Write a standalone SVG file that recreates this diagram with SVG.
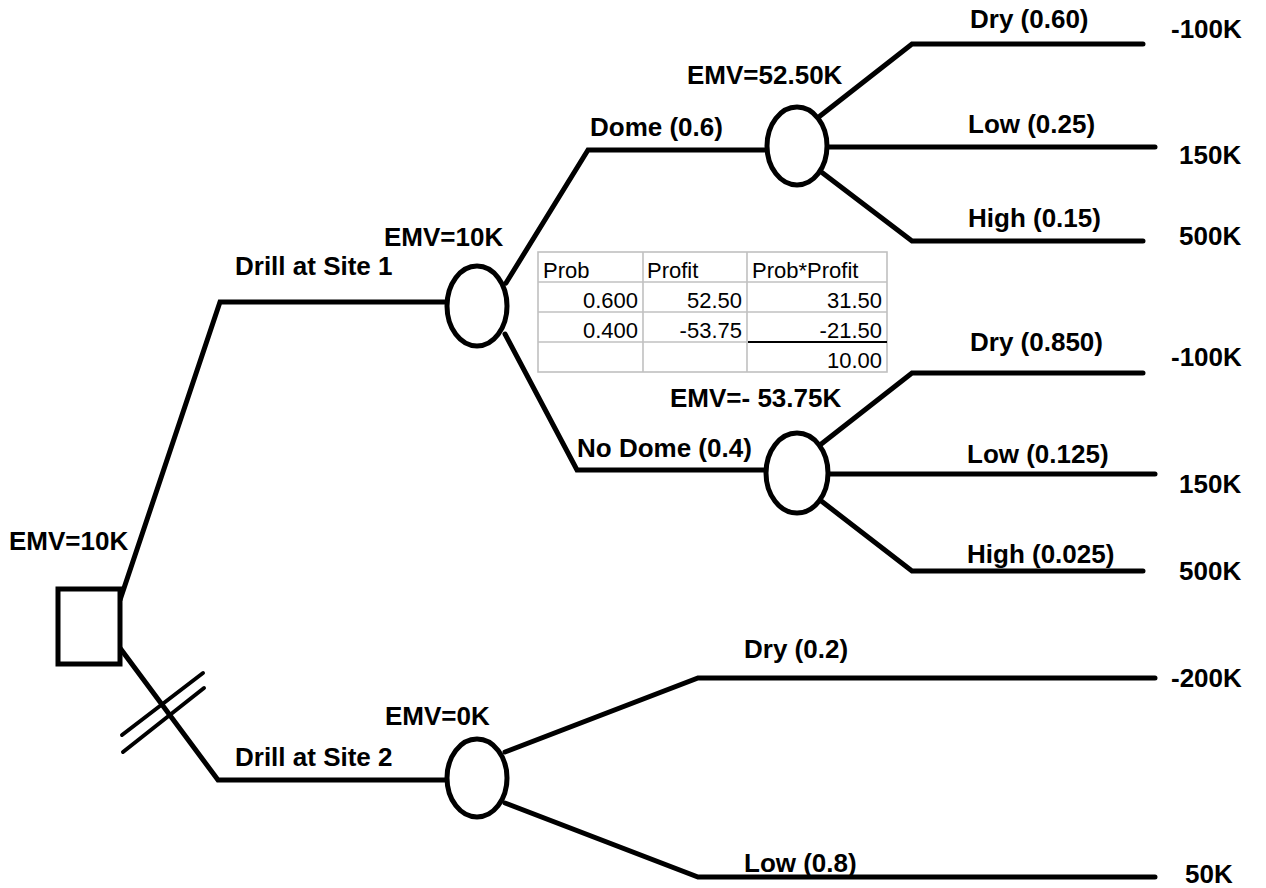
<svg xmlns="http://www.w3.org/2000/svg" width="1266" height="888" viewBox="0 0 1266 888">
<style>
.ln{fill:none;stroke:#000;stroke-width:5;stroke-linecap:round;stroke-linejoin:miter}
.nd{fill:#fff;stroke:#000;stroke-width:5}
.lb{font-family:"Liberation Sans",Arial,sans-serif;font-weight:bold;font-size:26px;fill:#000}
.tt{font-family:"Liberation Sans",Arial,sans-serif;font-size:22px;fill:#000}
.r{text-anchor:end}
.gr{stroke:#c0c0c0;stroke-width:1.6;fill:none}
</style>
<rect width="1266" height="888" fill="#fff"/>
<g id="connectors">
<polyline class="ln" points="120,600 220,302 447,302"/>
<polyline class="ln" points="120,648 218,780 447,780"/>
<line class="ln" x1="122" y1="735" x2="203" y2="673" style="stroke-width:4"/>
<line class="ln" x1="123" y1="752" x2="204" y2="688" style="stroke-width:4"/>
<polyline class="ln" points="506,283 588,150 767,150"/>
<polyline class="ln" points="505,334 577,470 766,470"/>
<polyline class="ln" points="820,116 912,44 1143,44"/>
<line class="ln" x1="828" y1="147" x2="1155" y2="147"/>
<polyline class="ln" points="820,171 912,241 1143,241"/>
<polyline class="ln" points="820,445 912,373 1143,373"/>
<line class="ln" x1="828" y1="474" x2="1155" y2="474"/>
<polyline class="ln" points="820,500 912,571 1143,571"/>
<polyline class="ln" points="505,752 698,678 1155,678"/>
<polyline class="ln" points="505,803 698,877 1155,877"/>
</g>
<g id="decision">
<rect class="nd" x="58" y="589" width="62" height="75"/>
<text class="lb" x="9" y="550">EMV=10K</text>
</g>
<g id="chance-site1">
<ellipse class="nd" cx="477" cy="306" rx="30" ry="40"/>
<text class="lb" x="384" y="246">EMV=10K</text>
<text class="lb" x="235" y="275">Drill at Site 1</text>
</g>
<g id="chance-dome">
<ellipse class="nd" cx="797" cy="146" rx="30" ry="39"/>
<text class="lb" x="687" y="84">EMV=52.50K</text>
<text class="lb" x="590" y="136">Dome (0.6)</text>
</g>
<g id="chance-nodome">
<ellipse class="nd" cx="797" cy="473" rx="31" ry="40"/>
<text class="lb" x="670" y="407">EMV=- 53.75K</text>
<text class="lb" x="577" y="457">No Dome (0.4)</text>
</g>
<g id="chance-site2">
<ellipse class="nd" cx="477" cy="778" rx="30" ry="39"/>
<text class="lb" x="385" y="725">EMV=0K</text>
<text class="lb" x="235" y="766">Drill at Site 2</text>
</g>
<g id="outcomes">
<text class="lb" x="970" y="28">Dry (0.60)</text>
<text class="lb" x="1171" y="38">-100K</text>
<text class="lb" x="968" y="133">Low (0.25)</text>
<text class="lb" x="1179" y="164">150K</text>
<text class="lb" x="968" y="227">High (0.15)</text>
<text class="lb" x="1179" y="245">500K</text>
<text class="lb" x="970" y="351">Dry (0.850)</text>
<text class="lb" x="1171" y="366">-100K</text>
<text class="lb" x="967" y="463">Low (0.125)</text>
<text class="lb" x="1179" y="493">150K</text>
<text class="lb" x="967" y="563">High (0.025)</text>
<text class="lb" x="1179" y="580">500K</text>
<text class="lb" x="744" y="658">Dry (0.2)</text>
<text class="lb" x="1171" y="687">-200K</text>
<text class="lb" x="744" y="872">Low (0.8)</text>
<text class="lb" x="1185" y="883">50K</text>
</g>
<g id="table">
<rect x="538" y="252" width="349" height="120" fill="#fff" class="gr"/>
<line class="gr" x1="538" y1="282" x2="887" y2="282"/>
<line class="gr" x1="538" y1="312" x2="887" y2="312"/>
<line class="gr" x1="538" y1="342" x2="887" y2="342"/>
<line class="gr" x1="643" y1="252" x2="643" y2="372"/>
<line class="gr" x1="747" y1="252" x2="747" y2="372"/>
<line x1="748" y1="342" x2="887" y2="342" stroke="#000" stroke-width="2"/>
<text class="tt" x="543" y="278">Prob</text>
<text class="tt" x="647" y="278">Profit</text>
<text class="tt" x="752" y="278">Prob*Profit</text>
<text class="tt r" x="638" y="308">0.600</text>
<text class="tt r" x="742" y="308">52.50</text>
<text class="tt r" x="882" y="308">31.50</text>
<text class="tt r" x="638" y="338">0.400</text>
<text class="tt r" x="742" y="338">-53.75</text>
<text class="tt r" x="882" y="338">-21.50</text>
<text class="tt r" x="882" y="368">10.00</text>
</g>
</svg>
